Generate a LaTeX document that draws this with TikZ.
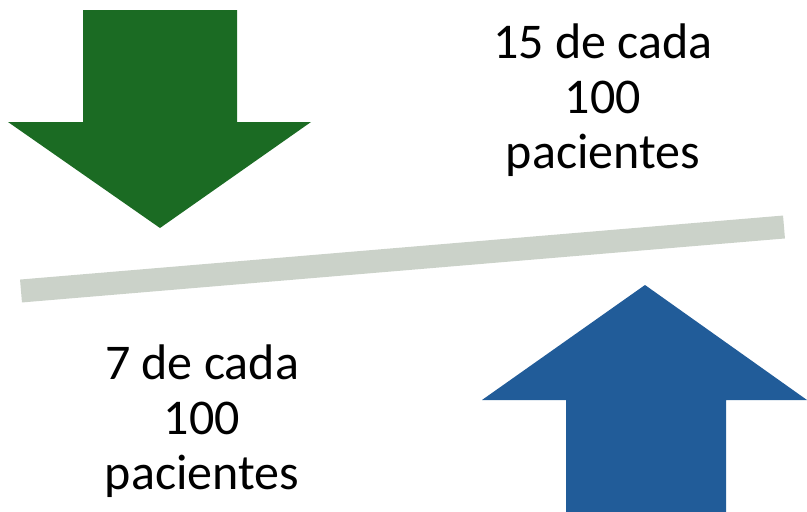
\documentclass[tikz,border=0pt]{standalone}
\usepackage{fontspec}
\setmainfont{Carlito}
\definecolor{arrowgreen}{HTML}{1B6B23}
\definecolor{arrowblue}{HTML}{215C99}
\definecolor{beamgray}{HTML}{CBD2C9}
\begin{document}
\begin{tikzpicture}[x=1pt,y=-1pt,
  label text/.style={align=center,font=\fontsize{50}{55}\selectfont,inner sep=0pt},
  beam/.style={draw=beamgray,line width=23pt}]
\useasboundingbox (0,0) rectangle (807,512);
\fill[arrowgreen] (83,10) -- (237,10) -- (237,122) -- (311,122) -- (160,228) -- (8,122) -- (83,122) -- cycle;
\fill[arrowblue] (566,512) -- (726,512) -- (726,400) -- (807,400) -- (645,285) -- (482,400) -- (566,400) -- cycle;
\coordinate (bl) at (21,291);
\coordinate (br) at (784,227);
\draw[beam] (bl) -- (br);
\node[label text] (top) at (603,100) {15 de cada\\100\\pacientes};
\node[label text] (bottom) at (202,421) {7 de cada\\100\\pacientes};
\end{tikzpicture}
\end{document}
